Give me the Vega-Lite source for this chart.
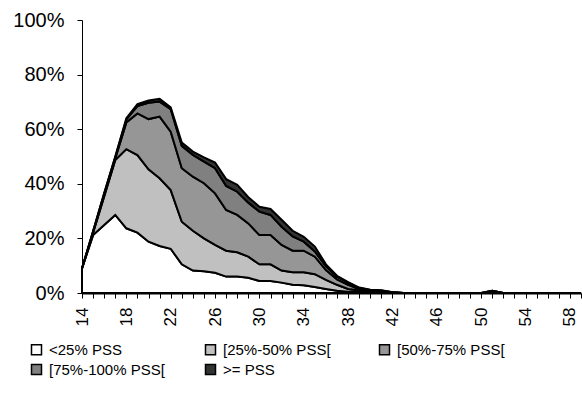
{
  "$schema": "https://vega.github.io/schema/vega-lite/v6.json",
  "width": 499,
  "height": 273,
  "autosize": "none",
  "padding": {"left": 82, "top": 20, "right": 1, "bottom": 104},
  "background": "white",
  "config": {"view": {"stroke": null}, "font": "Liberation Sans"},
  "data": {"values": [
    {"x":14,"s":1,"v":9},{"x":14,"s":2,"v":0},{"x":14,"s":3,"v":0},{"x":14,"s":4,"v":0},{"x":14,"s":5,"v":0},
    {"x":15,"s":1,"v":21.2},{"x":15,"s":2,"v":0.9},{"x":15,"s":3,"v":0.3},{"x":15,"s":4,"v":0.2},{"x":15,"s":5,"v":0},
    {"x":16,"s":1,"v":24.9},{"x":16,"s":2,"v":10.5},{"x":16,"s":3,"v":0.6},{"x":16,"s":4,"v":0.5},{"x":16,"s":5,"v":0},
    {"x":17,"s":1,"v":28.6},{"x":17,"s":2,"v":20.1},{"x":17,"s":3,"v":0.6},{"x":17,"s":4,"v":0.5},{"x":17,"s":5,"v":0.2},
    {"x":18,"s":1,"v":23.7},{"x":18,"s":2,"v":29.0},{"x":18,"s":3,"v":9.8},{"x":18,"s":4,"v":1.1},{"x":18,"s":5,"v":0.4},
    {"x":19,"s":1,"v":22.1},{"x":19,"s":2,"v":28.4},{"x":19,"s":3,"v":15.3},{"x":19,"s":4,"v":2.7},{"x":19,"s":5,"v":0.7},
    {"x":20,"s":1,"v":18.8},{"x":20,"s":2,"v":26.5},{"x":20,"s":3,"v":18.4},{"x":20,"s":4,"v":6.0},{"x":20,"s":5,"v":0.8},
    {"x":21,"s":1,"v":17.2},{"x":21,"s":2,"v":24.8},{"x":21,"s":3,"v":22.6},{"x":21,"s":4,"v":5.5},{"x":21,"s":5,"v":1.0},
    {"x":22,"s":1,"v":16.2},{"x":22,"s":2,"v":21.5},{"x":22,"s":3,"v":21.4},{"x":22,"s":4,"v":8.2},{"x":22,"s":5,"v":0.7},
    {"x":23,"s":1,"v":10.5},{"x":23,"s":2,"v":15.6},{"x":23,"s":3,"v":19.6},{"x":23,"s":4,"v":8.2},{"x":23,"s":5,"v":1.2},
    {"x":24,"s":1,"v":8.2},{"x":24,"s":2,"v":14.6},{"x":24,"s":3,"v":19.8},{"x":24,"s":4,"v":8.0},{"x":24,"s":5,"v":1.2},
    {"x":25,"s":1,"v":8.0},{"x":25,"s":2,"v":12.0},{"x":25,"s":3,"v":20.2},{"x":25,"s":4,"v":7.9},{"x":25,"s":5,"v":1.6},
    {"x":26,"s":1,"v":7.4},{"x":26,"s":2,"v":10.2},{"x":26,"s":3,"v":18.9},{"x":26,"s":4,"v":9.2},{"x":26,"s":5,"v":2.1},
    {"x":27,"s":1,"v":6.0},{"x":27,"s":2,"v":9.5},{"x":27,"s":3,"v":14.9},{"x":27,"s":4,"v":8.8},{"x":27,"s":5,"v":2.5},
    {"x":28,"s":1,"v":6.0},{"x":28,"s":2,"v":8.9},{"x":28,"s":3,"v":13.7},{"x":28,"s":4,"v":8.5},{"x":28,"s":5,"v":2.5},
    {"x":29,"s":1,"v":5.6},{"x":29,"s":2,"v":7.7},{"x":29,"s":3,"v":12.2},{"x":29,"s":4,"v":7.6},{"x":29,"s":5,"v":2.0},
    {"x":30,"s":1,"v":4.4},{"x":30,"s":2,"v":6.1},{"x":30,"s":3,"v":10.7},{"x":30,"s":4,"v":8.6},{"x":30,"s":5,"v":1.8},
    {"x":31,"s":1,"v":4.4},{"x":31,"s":2,"v":6.1},{"x":31,"s":3,"v":10.7},{"x":31,"s":4,"v":7.4},{"x":31,"s":5,"v":2.2},
    {"x":32,"s":1,"v":3.8},{"x":32,"s":2,"v":4.4},{"x":32,"s":3,"v":9.4},{"x":32,"s":4,"v":6.7},{"x":32,"s":5,"v":2.5},
    {"x":33,"s":1,"v":3.0},{"x":33,"s":2,"v":4.6},{"x":33,"s":3,"v":7.9},{"x":33,"s":4,"v":5.2},{"x":33,"s":5,"v":2.1},
    {"x":34,"s":1,"v":2.8},{"x":34,"s":2,"v":4.8},{"x":34,"s":3,"v":7.9},{"x":34,"s":4,"v":3.3},{"x":34,"s":5,"v":1.8},
    {"x":35,"s":1,"v":2.2},{"x":35,"s":2,"v":4.7},{"x":35,"s":3,"v":6.4},{"x":35,"s":4,"v":1.9},{"x":35,"s":5,"v":1.8},
    {"x":36,"s":1,"v":1.5},{"x":36,"s":2,"v":3.3},{"x":36,"s":3,"v":3.6},{"x":36,"s":4,"v":1.4},{"x":36,"s":5,"v":0.7},
    {"x":37,"s":1,"v":0.8},{"x":37,"s":2,"v":2.2},{"x":37,"s":3,"v":2.0},{"x":37,"s":4,"v":1.0},{"x":37,"s":5,"v":0.3},
    {"x":38,"s":1,"v":0.5},{"x":38,"s":2,"v":1.0},{"x":38,"s":3,"v":1.5},{"x":38,"s":4,"v":0.8},{"x":38,"s":5,"v":0.2},
    {"x":39,"s":1,"v":0.5},{"x":39,"s":2,"v":0.5},{"x":39,"s":3,"v":0.5},{"x":39,"s":4,"v":0.3},{"x":39,"s":5,"v":0.2},
    {"x":40,"s":1,"v":0.3},{"x":40,"s":2,"v":0.3},{"x":40,"s":3,"v":0.3},{"x":40,"s":4,"v":0.2},{"x":40,"s":5,"v":0.1},
    {"x":41,"s":1,"v":0.2},{"x":41,"s":2,"v":0.2},{"x":41,"s":3,"v":0.3},{"x":41,"s":4,"v":0.2},{"x":41,"s":5,"v":0.1},
    {"x":42,"s":1,"v":0.1},{"x":42,"s":2,"v":0.1},{"x":42,"s":3,"v":0.1},{"x":42,"s":4,"v":0},{"x":42,"s":5,"v":0},
    {"x":43,"s":1,"v":0},{"x":43,"s":2,"v":0},{"x":43,"s":3,"v":0},{"x":43,"s":4,"v":0},{"x":43,"s":5,"v":0},
    {"x":44,"s":1,"v":0},{"x":44,"s":2,"v":0},{"x":44,"s":3,"v":0},{"x":44,"s":4,"v":0},{"x":44,"s":5,"v":0},
    {"x":45,"s":1,"v":0},{"x":45,"s":2,"v":0},{"x":45,"s":3,"v":0},{"x":45,"s":4,"v":0},{"x":45,"s":5,"v":0},
    {"x":46,"s":1,"v":0},{"x":46,"s":2,"v":0},{"x":46,"s":3,"v":0},{"x":46,"s":4,"v":0},{"x":46,"s":5,"v":0},
    {"x":47,"s":1,"v":0},{"x":47,"s":2,"v":0},{"x":47,"s":3,"v":0},{"x":47,"s":4,"v":0},{"x":47,"s":5,"v":0},
    {"x":48,"s":1,"v":0},{"x":48,"s":2,"v":0},{"x":48,"s":3,"v":0},{"x":48,"s":4,"v":0},{"x":48,"s":5,"v":0},
    {"x":49,"s":1,"v":0},{"x":49,"s":2,"v":0},{"x":49,"s":3,"v":0},{"x":49,"s":4,"v":0},{"x":49,"s":5,"v":0},
    {"x":50,"s":1,"v":0},{"x":50,"s":2,"v":0},{"x":50,"s":3,"v":0},{"x":50,"s":4,"v":0},{"x":50,"s":5,"v":0},
    {"x":51,"s":1,"v":0},{"x":51,"s":2,"v":0},{"x":51,"s":3,"v":0.8},{"x":51,"s":4,"v":0},{"x":51,"s":5,"v":0},
    {"x":52,"s":1,"v":0},{"x":52,"s":2,"v":0},{"x":52,"s":3,"v":0},{"x":52,"s":4,"v":0},{"x":52,"s":5,"v":0},
    {"x":53,"s":1,"v":0},{"x":53,"s":2,"v":0},{"x":53,"s":3,"v":0},{"x":53,"s":4,"v":0},{"x":53,"s":5,"v":0},
    {"x":54,"s":1,"v":0},{"x":54,"s":2,"v":0},{"x":54,"s":3,"v":0},{"x":54,"s":4,"v":0},{"x":54,"s":5,"v":0},
    {"x":55,"s":1,"v":0},{"x":55,"s":2,"v":0},{"x":55,"s":3,"v":0},{"x":55,"s":4,"v":0},{"x":55,"s":5,"v":0},
    {"x":56,"s":1,"v":0},{"x":56,"s":2,"v":0},{"x":56,"s":3,"v":0},{"x":56,"s":4,"v":0},{"x":56,"s":5,"v":0},
    {"x":57,"s":1,"v":0},{"x":57,"s":2,"v":0},{"x":57,"s":3,"v":0},{"x":57,"s":4,"v":0},{"x":57,"s":5,"v":0},
    {"x":58,"s":1,"v":0},{"x":58,"s":2,"v":0},{"x":58,"s":3,"v":0},{"x":58,"s":4,"v":0},{"x":58,"s":5,"v":0},
    {"x":59,"s":1,"v":0},{"x":59,"s":2,"v":0},{"x":59,"s":3,"v":0},{"x":59,"s":4,"v":0},{"x":59,"s":5,"v":0}
  ]},
  "mark": {"type": "area", "stroke": "black", "strokeWidth": 2, "strokeJoin": "miter", "opacity": 1},
  "encoding": {
    "x": {
      "field": "x", "type": "quantitative",
      "scale": {"domain": [14, 59], "nice": false, "zero": false},
      "axis": {
        "title": null,
        "values": [14,15,16,17,18,19,20,21,22,23,24,25,26,27,28,29,30,31,32,33,34,35,36,37,38,39,40,41,42,43,44,45,46,47,48,49,50,51,52,53,54,55,56,57,58,59],
        "labelExpr": "(datum.value - 14) % 4 === 0 ? datum.label : ''",
        "labelAngle": -90, "labelOverlap": false, "labelFlush": false,
        "labelFont": "Liberation Sans", "labelFontSize": 17, "labelColor": "black",
        "labelPadding": 9,
        "tickSize": 5, "tickColor": "black", "tickWidth": 1,
        "domainColor": "black", "domainWidth": 2, "grid": false
      }
    },
    "y": {
      "field": "v", "type": "quantitative", "stack": "zero",
      "scale": {"domain": [0, 100], "nice": false},
      "axis": {
        "title": null,
        "values": [0, 20, 40, 60, 80, 100],
        "labelExpr": "datum.value + '%'",
        "labelFont": "Liberation Sans", "labelFontSize": 20, "labelColor": "black",
        "labelPadding": 13,
        "tickSize": 5, "tickColor": "black", "tickWidth": 1,
        "domainColor": "black", "domainWidth": 1, "grid": false
      }
    },
    "color": {
      "field": "s", "type": "nominal",
      "scale": {"domain": [1, 2, 3, 4, 5], "range": ["#ffffff", "#c0c0c0", "#969696", "#808080", "#333333"]},
      "legend": {
        "title": null,
        "orient": "none",
        "legendX": -53,
        "legendY": 322,
        "direction": "horizontal",
        "columns": 3,
        "gridAlign": "all",
        "columnPadding": 37,
        "rowPadding": 3,
        "symbolType": "square",
        "symbolSize": 100,
        "symbolStrokeColor": "black",
        "symbolStrokeWidth": 1.5,
        "labelFont": "Liberation Sans",
        "labelFontSize": 15,
        "labelColor": "black",
        "labelOffset": 5,
        "labelExpr": "['<25% PSS','[25%-50% PSS[','[50%-75% PSS[','[75%-100% PSS[','>= PSS'][datum.value - 1]"
      }
    },
    "order": {"field": "s", "type": "quantitative", "sort": "ascending"}
  }
}
